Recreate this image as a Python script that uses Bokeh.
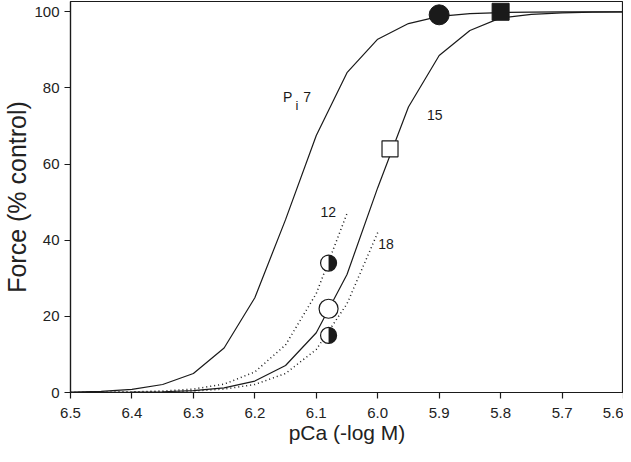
import math
from bokeh.plotting import figure
from bokeh.models import Range1d, Label, FixedTicker
from bokeh.embed import file_html
from bokeh.resources import INLINE

# pCa grid used by the curves
pca = [6.50, 6.45, 6.40, 6.35, 6.30, 6.25, 6.20, 6.15, 6.10, 6.05, 6.00,
       5.95, 5.90, 5.85, 5.80, 5.75, 5.70, 5.65, 5.60]
# Pi 7 mM (solid)
force_pi7 = [0.1, 0.3, 0.8, 2.1, 5.0, 11.7, 24.9, 45.4, 67.5, 84.0, 92.8,
             96.9, 98.8, 99.5, 99.8, 99.9, 100.0, 100.0, 100.0]
# Pi 15 mM (solid)
force_pi15 = [0.0, 0.05, 0.1, 0.2, 0.5, 1.2, 3.0, 7.1, 15.7, 31.0, 53.8,
              75.0, 88.5, 95.1, 98.4, 99.3, 99.7, 99.9, 100.0]
# Pi 12 mM (dotted)
pca_12 = [6.50, 6.45, 6.40, 6.35, 6.30, 6.25, 6.20, 6.15, 6.10, 6.05]
force_pi12 = [0.0, 0.05, 0.15, 0.4, 0.9, 2.2, 5.4, 12.5, 26.0, 47.0]
# Pi 18 mM (dotted)
pca_18 = [6.50, 6.45, 6.40, 6.35, 6.30, 6.25, 6.20, 6.15, 6.10, 6.05, 6.00]
force_pi18 = [0.0, 0.02, 0.05, 0.15, 0.4, 0.9, 2.1, 5.0, 11.3, 23.3, 42.0]

# measured points
filled_circle_x = [5.90]
filled_circle_y = [99.2]
filled_square_x = [5.80]
filled_square_y = [100.0]
open_square_x = [5.98]
open_square_y = [64.0]
open_circle_x = [6.08]
open_circle_y = [22.0]
half_circle_x = [6.08, 6.08]
half_circle_y = [34.0, 15.0]

x_ticks = [6.5, 6.4, 6.3, 6.2, 6.1, 6.0, 5.9, 5.8, 5.7, 5.6]
y_ticks = [0, 20, 40, 60, 80, 100]

FONT = "Liberation Sans"
INK = "#1a1a1a"

p = figure(width=623, height=446, output_backend="svg", toolbar_location=None,
           x_range=Range1d(6.5, 5.6), y_range=Range1d(0, 102.7),
           min_border_left=67, min_border_right=0, min_border_top=1,
           min_border_bottom=0)

p.grid.visible = False
p.outline_line_color = INK
p.outline_line_width = 1.2

for ax in (p.xaxis[0], p.yaxis[0]):
    ax.axis_line_color = INK
    ax.axis_line_width = 1.2
    ax.major_tick_line_color = INK
    ax.major_tick_line_width = 1.2
    ax.major_tick_out = 6
    ax.major_tick_in = 0
    ax.minor_tick_line_color = None
    ax.major_label_text_font = FONT
    ax.major_label_text_font_size = "15px"
    ax.major_label_text_color = "#222222"
    ax.axis_label_text_font = FONT
    ax.axis_label_text_font_style = "normal"
    ax.axis_label_text_color = "#222222"

p.xaxis.ticker = FixedTicker(ticks=x_ticks)
p.yaxis.ticker = FixedTicker(ticks=y_ticks)
p.xaxis.major_label_overrides = {t: f"{t:.1f}" for t in x_ticks}
p.xaxis.major_label_standoff = 9
p.yaxis.major_label_standoff = 5
p.yaxis.axis_label = "Force (% control)"
p.yaxis.axis_label_text_font_size = "25px"
p.yaxis.axis_label_standoff = 0
p.xaxis.axis_label = "pCa (-log M)"
p.xaxis.axis_label_text_font_size = "21px"
p.xaxis.axis_label_standoff = 0
p.xaxis.axis_label_text_baseline = "top"

p.line(pca, force_pi7, line_color=INK, line_width=1.2)
p.line(pca, force_pi15, line_color=INK, line_width=1.2)
p.line(pca_12, force_pi12, line_color=INK, line_width=1.5, line_dash="1 3")
p.line(pca_18, force_pi18, line_color=INK, line_width=1.5, line_dash="1 3")

p.scatter(filled_circle_x, filled_circle_y, marker="circle", size=20,
          fill_color=INK, line_color=INK)
p.scatter(filled_square_x, filled_square_y, marker="square", size=17,
          fill_color=INK, line_color=INK)
p.scatter(open_square_x, open_square_y, marker="square", size=16,
          fill_color="white", line_color=INK, line_width=1.2)
p.scatter(open_circle_x, open_circle_y, marker="circle", size=19,
          fill_color="white", line_color=INK, line_width=1.2)
p.scatter(half_circle_x, half_circle_y, marker="circle", size=16,
          fill_color="white", line_color=None)
p.wedge(half_circle_x, half_circle_y, radius=8, radius_units="screen",
        start_angle=-math.pi / 2, end_angle=math.pi / 2,
        direction="anticlock", fill_color=INK, line_color=None)
p.scatter(half_circle_x, half_circle_y, marker="circle", size=16,
          fill_color=None, line_color=INK, line_width=1.2)

def lab(x, y, t, size="14px"):
    p.add_layout(Label(x=x, y=y, text=t, text_font=FONT, text_font_size=size,
                       text_color="#1a1a1a", text_baseline="alphabetic",
                       text_align="left"))

lab(6.154, 77.6, "P")
lab(6.134, 75.4, "i", "13px")
lab(6.121, 77.6, "7")
lab(5.920, 72.8, "15")
lab(6.093, 47.5, "12")
lab(5.999, 38.9, "18")

open("out.html", "w").write(file_html(p, INLINE))
